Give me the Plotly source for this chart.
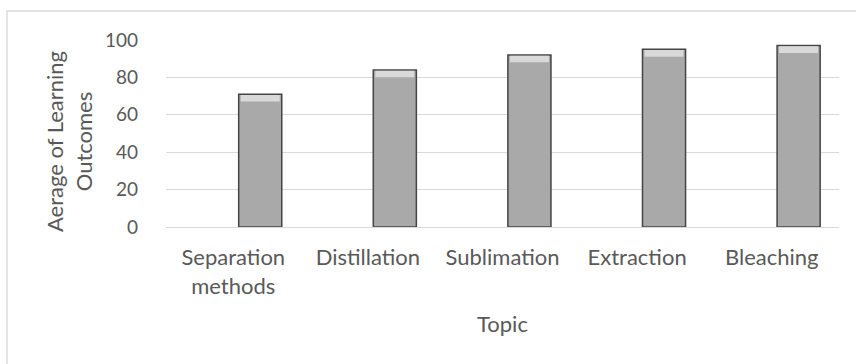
import plotly.graph_objects as go

categories = ["Separation<br>methods", "Distillation", "Sublimation", "Extraction", "Bleaching"]
values = [71, 84, 92, 95, 97]
y_ticks = [0, 20, 40, 60, 80, 100]

W, H = 856, 364
L, R, T, B = 166, 17, 40, 137
pw, ph = W - L - R, H - T - B

FONT = "Lato, 'Liberation Sans Narrow', sans-serif"
TXT = "#595959"
BEVEL = 3.5  # height of top highlight band, in value units

fig = go.Figure()
fig.add_trace(go.Bar(
    x=categories, y=values, width=0.32, offset=0.04,
    marker=dict(color="#a9a9a9", line=dict(color="#454545", width=1.5)),
    hoverinfo="skip",
))
fig.add_trace(go.Bar(
    x=categories, y=[BEVEL] * len(values), base=[v - BEVEL - 0.4 for v in values],
    width=0.29, offset=0.055,
    marker=dict(color="#d9d9d9", line=dict(width=0)),
    hoverinfo="skip",
))

fig.update_layout(
    width=W, height=H,
    barmode="overlay",
    margin=dict(l=L, r=R, t=T, b=B),
    paper_bgcolor="white", plot_bgcolor="white",
    showlegend=False,
    font=dict(family=FONT, size=22, color=TXT),
    xaxis=dict(showgrid=False, showline=False, ticks="", tickfont=dict(size=22, color=TXT),
               ticklabelstandoff=15, range=[-0.5, 4.5]),
    yaxis=dict(range=[0, 100], tickvals=y_ticks, showgrid=True, gridcolor="#d9d9d9",
               gridwidth=1.3, zeroline=True, zerolinecolor="#d9d9d9", zerolinewidth=1.3,
               ticks="", tickfont=dict(size=19, color=TXT), ticklabelstandoff=27),
    shapes=[dict(type="rect", xref="paper", yref="paper",
                 x0=(7 - L) / pw, x1=(W + 10 - L) / pw,
                 y0=(H - B - (H + 10)) / ph, y1=(H - B - 11) / ph,
                 line=dict(color="#d9d9d9", width=1.3), fillcolor="rgba(0,0,0,0)", layer="below")],
    annotations=[
        dict(text="Aerage of Learning<br>Outcomes", xref="paper", yref="paper",
             x=(69 - L) / pw, y=(H - B - 142) / ph, xanchor="center", yanchor="middle", textangle=-90,
             showarrow=False, font=dict(size=22, color=TXT)),
        dict(text="Topic", xref="paper", yref="paper",
             x=0.5, y=(H - B - 323) / ph, xanchor="center", yanchor="middle",
             showarrow=False, font=dict(size=22, color=TXT)),
    ],
)

fig.write_html("out.html")
